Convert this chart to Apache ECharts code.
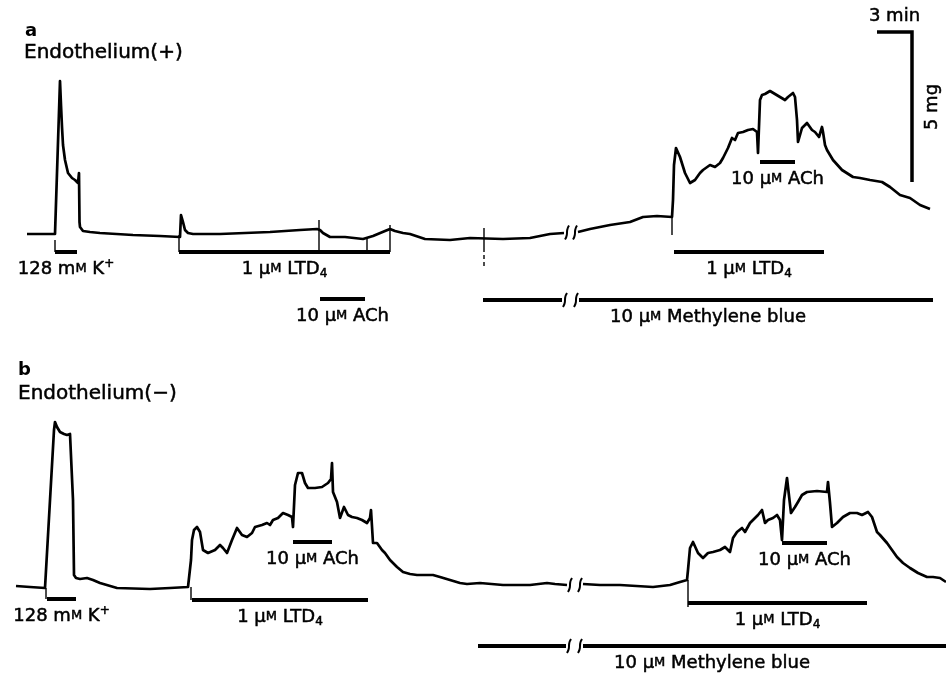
<!DOCTYPE html>
<html><head><meta charset="utf-8">
<script src="https://cdn.jsdelivr.net/npm/echarts@6/dist/echarts.min.js"></script>
<style>html,body{margin:0;padding:0;background:#fff}#c{width:946px;height:676px}</style>
</head><body><div id="c"></div>
<script>
// ---------- DATA (recorder units: time along paper, tension above baseline) ----------
// Panel a, Endothelium(+)
const traceA1 = [[27,0],[45,0],[55,0],[60,153],[61,129],[62,107],[63,89],[65,74],[68,61],[72,56],[75,54],[78,51],[79,61],[79.5,12],[80,7],[83,3],[90,2],[100,1],[133,-1],[160,-2],[180,-3],[181,19],[183,12],[185,4],[188,1],[193,0],[220,0],[270,2],[300,4],[317,5],[320,4],[323,1],[330,-3],[345,-3],[363,-5],[373,-2],[385,3],[390,5],[395,3],[403,1],[410,0],[425,-5],[450,-6],[470,-4],[503,-5],[530,-4],[550,0],[564,1]];
const traceA2 = [[578,2],[590,5],[610,9],[630,12],[643,17],[657,18],[672,17],[673,34],[674,69],[676,86],[677,88],[680,77],[685,61],[690,51],[695,54],[700,61],[703,64],[710,69],[715,67],[720,71],[723,76],[728,86],[732,96],[735,94],[738,101],[743,102],[748,104],[753,105],[757,102],[758,81],[759,81],[760,134],[762,139],[765,140],[770,143],[775,140],[780,137],[785,134],[788,137],[793,141],[795,137],[797,114],[798,92],[802,106],[807,111],[812,104],[815,102],[819,97],[822,107],[823,102],[825,89],[827,84],[833,74],[842,64],[853,57],[860,56],[870,54],[882,52],[890,47],[900,39],[910,36],[920,29],[930,25]];
// Panel b, Endothelium(-)
const traceB1 = [[16,2],[30,1],[45,0],[46,0],[54,158],[55,166],[57,161],[60,156],[64,154],[67,153],[70,154],[72,155],[73,88],[74,13],[76,10],[80,9],[87,10],[93,8],[100,5],[117,0],[150,-1],[170,0],[188,1],[190,0],[191,28],[192,48],[194,58],[197,61],[200,56],[203,38],[208,35],[215,38],[220,43],[223,40],[227,35],[232,48],[237,60],[242,53],[247,51],[252,55],[255,61],[262,63],[267,65],[270,63],[273,68],[278,70],[283,75],[288,73],[292,71],[293,61],[295,103],[298,115],[302,115],[305,105],[308,100],[315,100],[322,101],[328,105],[331,109],[332,125],[333,96],[337,86],[340,70],[344,81],[348,73],[352,71],[357,70],[362,68],[367,65],[370,70],[371,78],[373,45],[377,45],[382,38],[385,35],[390,28],[397,21],[403,16],[410,14],[417,13],[433,13],[440,11],[450,8],[460,5],[467,4],[480,5],[503,3],[530,3],[547,5],[555,4],[567,3]];
const traceB2 = [[583,4],[600,3],[620,3],[653,1],[670,3],[680,6],[687,8],[688,18],[690,40],[693,46],[695,45],[698,35],[703,30],[708,35],[713,36],[720,38],[725,41],[730,36],[733,50],[737,56],[742,60],[745,56],[750,65],[753,68],[758,73],[762,78],[765,65],[768,68],[773,70],[777,73],[780,68],[782,48],[784,88],[787,110],[788,101],[791,75],[795,81],[798,86],[802,93],[807,96],[817,97],[827,96],[828,106],[830,85],[832,61],[837,65],[843,71],[850,75],[857,75],[862,73],[868,76],[872,71],[877,56],[880,53],[887,45],[892,38],[897,31],[903,25],[910,20],[918,15],[927,11],[933,11],[940,10],[946,6]];

// Drug application periods [start, end]
const kA = [55, 77];
const ltdA1 = [179, 390];
const achA1 = [320, 365];
const ltdA2 = [674, 824];
const achA2 = [760, 795];
const mbA = [483, 933];
const kB = [47, 76];
const ltdB1 = [192, 368];
const achB1 = [293, 332];
const ltdB2 = [688, 867];
const achB2 = [782, 827];
const mbB = [478, 946];
// Omitted recording segments [from, to]
const gapA = [565, 577];
const gapB = [568, 582];
const gapMbA = [563, 578];
const gapMbB = [567, 582];
// Event marks on the recording [time, from, to]
const marksA = [[55,-6,-18],[179,-1,-18],[319,14,-18],[367,-4,-18],[390,9,-18],[672,22,-1],[484,6,-14]];
const dashedMarksA = [[484,-14,-33]];
const marksB = [[46,0,-11],[191,1,-12],[688,8,-19]];
// Calibration bars: 3 min (time), 5 mg (tension)
const calTime = [877, 912];
const calForce = [52, 202];

// Labels
const TXT_K = '128 m{sc|M} K{sup|+}';
const TXT_LTD = '1 µ{sc|M} LTD{sub|4}';
const TXT_ACH = '10 µ{sc|M} ACh';
const TXT_MB = '10 µ{sc|M} Methylene blue';

// ---------- LAYOUT ----------
const rowA = {k:-18, ltd1:-18, ach1:-65, ltd2:-18, ach2:72, mb:-66, trace:1.5};
const rowB = {k:-11, ltd1:-12, ach1:46, ltd2:-15, ach2:45, mb:-58, trace:3};
const INK = '#000000';
const FONT = 'DejaVu Sans';
const HEAVY = {textBorderColor:INK, textBorderWidth:0.5};
const series = [];

function line(g, data, width, extra) {
  series.push(Object.assign({type:'line', xAxisIndex:g, yAxisIndex:g, data:data, symbol:'none',
    silent:true, clip:false, animation:false, lineStyle:{color:INK, width:width, cap:'butt', join:'round'}}, extra || {}));
}
const labelBase = Object.assign({show:true, color:INK, opacity:1, fontFamily:FONT, fontSize:18, lineHeight:22,
  rich:{
    sc:Object.assign({fontSize:13, fontFamily:FONT, color:INK, lineHeight:22}, HEAVY),
    sub:Object.assign({fontSize:12, fontFamily:FONT, color:INK, lineHeight:12, verticalAlign:'bottom'}, HEAVY),
    sup:Object.assign({fontSize:12, fontFamily:FONT, color:INK, lineHeight:12, verticalAlign:'top'}, HEAVY)
  }}, HEAVY);
function label(g, x, y, text, pos, dist, rot) {
  series.push({type:'scatter', xAxisIndex:g, yAxisIndex:g, data:[[x,y]], symbolSize:0, silent:true, animation:false,
    itemStyle:{opacity:1, color:INK},
    label:Object.assign({}, labelBase, {position:pos, distance:dist, formatter:text, rotate:rot||0})});
}
function squiggle(g, cx, cy) {
  line(g, [[cx+2,cy+7],[cx+0.2,cy+2.5],[cx-0.2,cy-2.5],[cx-2,cy-7]], 2, {smooth:true});
}
function bar(g, range, level, text, gap) {
  if (gap) {
    line(g, [[range[0],level],[gap[0]-1,level]], 4);
    line(g, [[gap[1]+1,level],[range[1],level]], 4);
    squiggle(g, gap[0]+2, level); squiggle(g, gap[1]-2, level);
  } else {
    line(g, [[range[0],level],[range[1],level]], 4);
  }
  label(g, (range[0]+range[1])/2, level, text, 'bottom', 6);
}

// Panel a
line(0, traceA1, 2.7);
line(0, traceA2, 2.7);
squiggle(0, gapA[0]+2, rowA.trace); squiggle(0, gapA[1]-2, rowA.trace);
bar(0, kA, rowA.k, TXT_K);
bar(0, ltdA1, rowA.ltd1, TXT_LTD);
bar(0, achA1, rowA.ach1, TXT_ACH);
bar(0, ltdA2, rowA.ltd2, TXT_LTD);
bar(0, achA2, rowA.ach2, TXT_ACH);
bar(0, mbA, rowA.mb, TXT_MB, gapMbA);
marksA.forEach(m => line(0, [[m[0],m[1]],[m[0],m[2]]], 1.4));
dashedMarksA.forEach(m => line(0, [[m[0],m[1]],[m[0],m[2]]], 1.4, {lineStyle:{color:INK,width:1.4,type:[4,3]}}));
line(0, [[calTime[0],calForce[1]],[calTime[1],calForce[1]],[calTime[1],calForce[0]]], 3.5, {lineStyle:{color:INK,width:3.5,join:'miter'}});
label(0, (calTime[0]+calTime[1])/2, calForce[1], '3 min', 'top', 5);
label(0, calTime[1]+20, (calForce[0]+calForce[1])/2, '5 mg', 'inside', 0, 90);

// Panel b
line(1, traceB1, 2.7);
line(1, traceB2, 2.7);
squiggle(1, gapB[0]+2, rowB.trace); squiggle(1, gapB[1]-2, rowB.trace);
bar(1, kB, rowB.k, TXT_K);
bar(1, ltdB1, rowB.ltd1, TXT_LTD);
bar(1, achB1, rowB.ach1, TXT_ACH);
bar(1, ltdB2, rowB.ltd2, TXT_LTD);
bar(1, achB2, rowB.ach2, TXT_ACH);
bar(1, mbB, rowB.mb, TXT_MB, gapMbB);
marksB.forEach(m => line(1, [[m[0],m[1]],[m[0],m[2]]], 1.4));

const chart = echarts.init(document.getElementById('c'), null, {renderer:'canvas'});
const ttl = (text, left, top, size, weight) => ({text, left, top, padding:0,
  textStyle:Object.assign({fontFamily:FONT, fontSize:size, fontWeight:weight, color:INK}, weight === 'bold' ? {} : HEAVY)});
chart.setOption({
  backgroundColor:'#fff',
  animation:false,
  title:[ttl('a',25,22,18,'bold'), ttl('Endothelium(+)',24,43,20,'normal'),
         ttl('b',18,361,18,'bold'), ttl('Endothelium(\u2212)',18,384,20,'normal')],
  grid:[{left:0,right:0,top:0,height:340},{left:0,right:0,top:340,height:336}],
  xAxis:[{gridIndex:0,type:'value',min:0,max:946,show:false},{gridIndex:1,type:'value',min:0,max:946,show:false}],
  yAxis:[{gridIndex:0,type:'value',min:-106,max:234,show:false},{gridIndex:1,type:'value',min:-88,max:248,show:false}],
  series:series
});
</script></body></html>
